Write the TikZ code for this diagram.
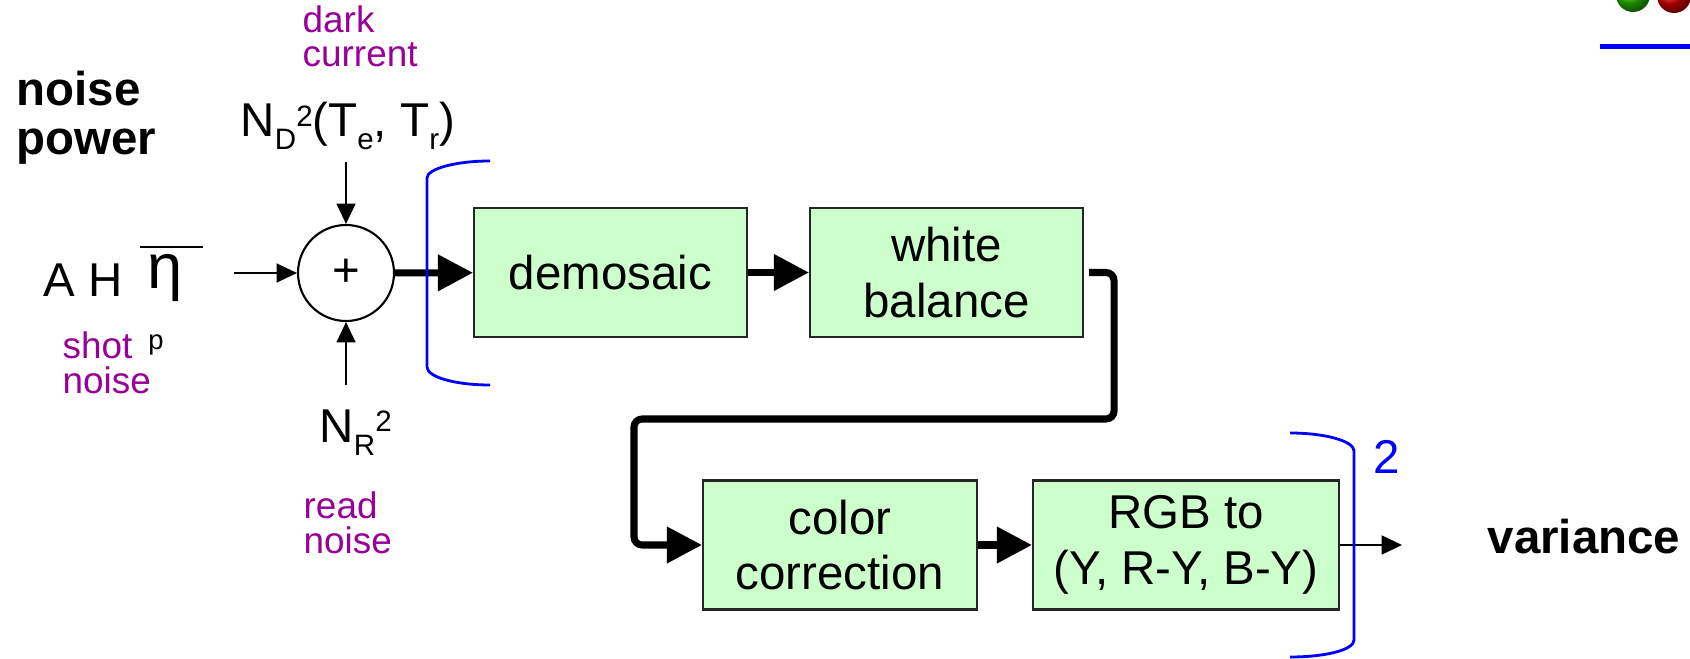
\documentclass[tikz,border=0pt]{standalone}
\usepackage{fontspec}
\setmainfont{Liberation Sans}
\usetikzlibrary{arrows.meta}
\definecolor{boxgreen}{RGB}{204,255,204}
\definecolor{noisepurple}{RGB}{153,0,153}
\definecolor{ballgreen}{RGB}{40,200,0}
\definecolor{ballred}{RGB}{230,0,0}
\newcommand{\lowtxt}[1]{\raisebox{-3.7pt}{\fontsize{8.4}{8.4}\selectfont #1}}
\newcommand{\hightxt}[1]{\raisebox{3.1pt}{\fontsize{8.4}{8.4}\selectfont #1}}

\begin{document}
\begin{tikzpicture}[
    font=\fontsize{13.5}{15.9}\selectfont,
    procbox/.style={draw=black!85, fill=boxgreen, line width=0.6pt,
      minimum height=1.29cm, align=center, inner sep=0pt},
    sumnode/.style={circle, draw, line width=0.6pt, minimum size=0.96cm, inner sep=0pt},
    thinarrow/.style={-{Triangle[length=5.8pt,width=5.4pt]}, line width=0.5pt},
    thickarrow/.style={-{Triangle[length=10pt,width=10pt]}, line width=2pt},
    thickline/.style={line width=2pt, rounded corners=0.8mm},
    bracket/.style={blue, line width=0.8pt},
    noiselabel/.style={text=noisepurple, font=\fontsize{10.5}{9.9}\selectfont,
      align=left, inner sep=0pt, anchor=base west},
    termlabel/.style={inner sep=0pt, anchor=base west},
    boldlabel/.style={inner sep=0pt, anchor=base west, align=left,
      font=\fontsize{13.5}{14.2}\selectfont\bfseries}
  ]
  \useasboundingbox (0,0) rectangle (16.9,6.58);
  \clip (0,0) rectangle (16.9,6.58);

  % Оформлення слайда (праворуч угорі)
  \shade[ball color=ballgreen] (16.33,6.63) circle (0.17);
  \shade[ball color=ballred] (16.74,6.62) circle (0.17);
  \draw[blue, line width=1.4pt] (16.00,6.115) -- (16.90,6.115);

  % Підписи (base = останній рядок)
  \node[boldlabel] (power) at (0.16,5.03) {noise\\power};
  \node[boldlabel] (variance) at (14.87,1.05) {variance};

  % Суматор
  \node[sumnode] (sum) at (3.46,3.85) {+};

  % Дробовий шум
  \node[termlabel] (shot) at (0.43,3.61) {A H};
  \node[inner sep=0pt, anchor=base, font=\fontsize{18}{18}\selectfont] (eta) at (1.65,3.69) {η};
  \draw[line width=0.6pt] (1.40,4.11) -- (2.03,4.11);
  \node[inner sep=0pt, font=\fontsize{7.8}{8}\selectfont] (etap) at (1.56,3.13) {p};
  \node[noiselabel] (shotname) at (0.62,2.65) {shot\\noise};
  \coordinate (shotin) at (2.34,3.85);
  \draw[thinarrow] (shotin) -- (sum);

  % Темновий струм
  \node[noiselabel] (darkname) at (3.02,5.91) {dark\\current};
  \node[termlabel] (dark) at (2.40,5.21) {N\lowtxt{D}\hightxt{2}(T\lowtxt{e}, T\lowtxt{r})};
  \coordinate (darkin) at (3.46,4.96);
  \draw[thinarrow] (darkin) -- (sum);

  % Шум зчитування
  \node[termlabel] (read) at (3.19,2.16) {N\lowtxt{R}\hightxt{2}};
  \node[noiselabel] (readname) at (3.03,1.05) {read\\noise};
  \coordinate (readin) at (3.46,2.73);
  \draw[thinarrow] (readin) -- (sum);

  % Блоки обробки
  \node[procbox, minimum width=2.73cm] (demosaic) at (6.105,3.855) {demosaic};
  \node[procbox, minimum width=2.73cm] (white) at (9.465,3.855) {white\\balance};
  \node[procbox, minimum width=2.74cm] (color) at (8.40,1.13) {color\\correction};
  \node[procbox, minimum width=3.06cm] (rgb) at (11.86,1.13) {RGB to\\(Y, R-Y, B-Y)};

  % Зʼєднання
  \draw[thickarrow] (sum) -- (demosaic);
  \draw[thickarrow] (demosaic) -- (white);
  \coordinate (turnR) at (11.14,2.39);
  \coordinate (turnL) at (6.34,2.39);
  \draw[thickline, thickarrow] ([xshift=0.5mm]white.east) -| (turnR) -- (turnL) |- (color.west);
  \draw[thickarrow] (color) -- (rgb);
  \coordinate (varin) at (14.02,1.13);
  \draw[thinarrow] (rgb) -- (varin);

  % Дужки квадрата
  \draw[bracket] (4.90,4.97) .. controls (4.55,4.97) and (4.27,4.89) .. (4.27,4.80)
    -- (4.27,2.91) .. controls (4.27,2.81) and (4.55,2.73) .. (4.90,2.73);
  \draw[bracket] (12.90,2.25) .. controls (13.25,2.25) and (13.54,2.17) .. (13.54,2.07)
    -- (13.54,0.18) .. controls (13.54,0.08) and (13.25,0.01) .. (12.90,0.01);
  \node[termlabel, text=blue] (square) at (13.73,1.85) {2};
\end{tikzpicture}
\end{document}
